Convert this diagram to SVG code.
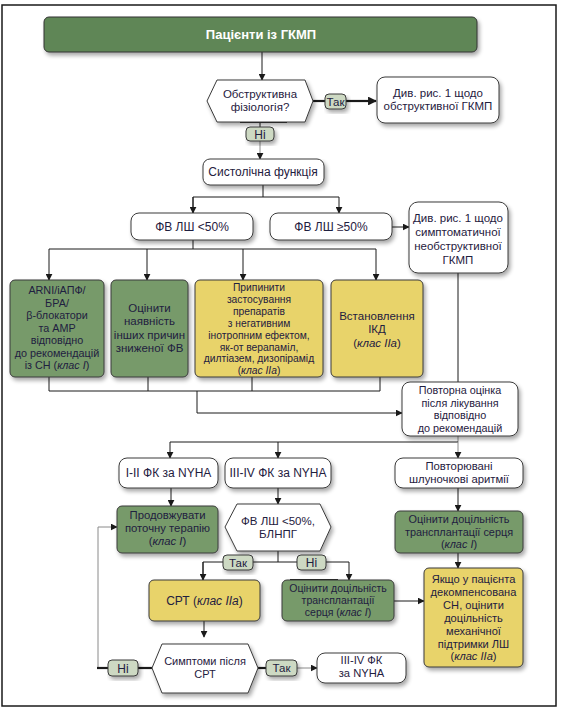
<svg xmlns="http://www.w3.org/2000/svg" width="563" height="710" viewBox="0 0 563 710">
<style>
.t{font-family:"Liberation Sans","DejaVu Sans",sans-serif;font-size:12px;fill:#1f2040;text-anchor:middle}
.s{font-size:11.5px}
.i{font-style:italic}
.w{fill:#ffffff;stroke:#3a3a3a;stroke-width:1}
.g{fill:#779a6b;stroke:#3a3a3a;stroke-width:1}
.y{fill:#e8d36a;stroke:#3a3a3a;stroke-width:1}
.p{fill:#cdd9c3;stroke:#3a3a3a;stroke-width:1}
.c{fill:none;stroke:#1a1a1a;stroke-width:1}
.gr{fill:none;stroke:#8a8a8a;stroke-width:1}
.k{fill:none;stroke:#1a1a1a;stroke-width:2.2}
</style>
<defs>
<marker id="a" viewBox="0 0 10 10" refX="9" refY="5" markerWidth="7" markerHeight="7" markerUnits="userSpaceOnUse" orient="auto"><path d="M0,0 L10,5 L0,10 z" fill="#1a1a1a"/></marker>
<marker id="ak" viewBox="0 0 10 10" refX="9" refY="5" markerWidth="4" markerHeight="4" orient="auto"><path d="M0,0 L10,5 L0,10 z" fill="#1a1a1a"/></marker>
<filter id="sh" x="-10%" y="-10%" width="130%" height="140%"><feGaussianBlur in="SourceAlpha" stdDeviation="2"/><feOffset dx="2" dy="3"/><feComponentTransfer><feFuncA type="linear" slope="0.35"/></feComponentTransfer><feMerge><feMergeNode/><feMergeNode in="SourceGraphic"/></feMerge></filter>
</defs>
<rect x="2" y="5" width="554" height="701" fill="#ffffff" stroke="#1a1a1a" stroke-width="1.5"/>

<g id="connectors">
<line class="c" x1="262" y1="52" x2="262" y2="80" marker-end="url(#a)"/>
<line class="k" x1="240" y1="122" x2="287" y2="122"/>
<line class="c" x1="260" y1="122" x2="260" y2="127"/>
<line class="gr" x1="260" y1="141" x2="260" y2="159" marker-end="url(#a)"/>
<line class="k" x1="313" y1="101" x2="325" y2="101"/>
<line class="k" x1="346" y1="101" x2="376" y2="101" marker-end="url(#ak)"/>
<polyline class="c" points="263,185 263,197"/>
<polyline class="c" points="193,213 193,197 339,197 339,213" marker-end="url(#a)"/>
<line class="c" x1="193" y1="197" x2="193" y2="213" marker-end="url(#a)"/>
<line class="c" x1="392" y1="227" x2="409" y2="227" marker-end="url(#a)"/>
<line class="c" x1="193" y1="240" x2="193" y2="249"/>
<line class="c" x1="49" y1="249" x2="376" y2="249"/>
<line class="c" x1="49" y1="249" x2="49" y2="280" marker-end="url(#a)"/>
<line class="c" x1="147" y1="249" x2="147" y2="280" marker-end="url(#a)"/>
<line class="c" x1="243" y1="249" x2="243" y2="280" marker-end="url(#a)"/>
<line class="c" x1="376" y1="249" x2="376" y2="280" marker-end="url(#a)"/>
<line class="c" x1="458" y1="273" x2="458" y2="382"/>
<polyline class="c" points="49,377 49,391 380,391 380,377"/>
<line class="c" x1="148" y1="377" x2="148" y2="391"/>
<line class="c" x1="252" y1="377" x2="252" y2="391"/>
<polyline class="c" points="197,391 197,413 402,413" marker-end="url(#a)"/>
<line class="gr" x1="458" y1="436" x2="458" y2="442"/>
<line class="c" x1="170" y1="442" x2="458" y2="442"/>
<line class="c" x1="170" y1="442" x2="170" y2="458" marker-end="url(#a)"/>
<line class="c" x1="278" y1="442" x2="278" y2="458" marker-end="url(#a)"/>
<line class="gr" x1="458" y1="442" x2="458" y2="458" marker-end="url(#a)"/>
<line class="c" x1="171" y1="488" x2="171" y2="506" marker-end="url(#a)"/>
<line class="c" x1="278" y1="488" x2="278" y2="504" marker-end="url(#a)"/>
<line class="c" x1="458" y1="488" x2="458" y2="511" marker-end="url(#a)"/>
<line class="c" x1="278" y1="551" x2="278" y2="562"/>
<polyline class="c" points="203,580 203,562 349,562 349,580" marker-end="url(#a)"/>
<line class="c" x1="203" y1="562" x2="203" y2="580" marker-end="url(#a)"/>
<line class="k" x1="290" y1="580" x2="338" y2="580"/>
<line class="c" x1="394" y1="601" x2="424" y2="601" marker-end="url(#a)"/>
<line class="c" x1="458" y1="553" x2="458" y2="568" marker-end="url(#a)"/>
<line class="c" x1="204" y1="621" x2="204" y2="637" marker-end="url(#a)"/>
<polyline class="gr" points="98,668 98,527 117,527" marker-end="url(#a)"/>
<line class="k" x1="97" y1="668" x2="108" y2="668"/>
<line class="k" x1="138" y1="668" x2="152" y2="668"/>
<line class="k" x1="258" y1="668" x2="266" y2="668"/>
<line class="gr" x1="297" y1="668" x2="317" y2="668" marker-end="url(#a)"/>
</g>

<g id="title">
<rect x="44" y="17" width="433" height="35" rx="5" fill="#5e8656" stroke="#333" stroke-width="1" filter="url(#sh)"/>
<text class="t" x="261" y="39" style="fill:#ffffff;font-weight:bold;font-size:13px">Пацієнти із ГКМП</text>
</g>

<g id="obstr">
<polygon class="w" points="207,101 217,80 305,80 313,101 305,122 217,122" filter="url(#sh)"/>
<text class="t" x="260" y="98" style="font-size:11.5px">Обструктивна<tspan x="260" dy="13.4">фізіологія?</tspan></text>
</g>

<g id="lbl-ni1"><rect class="p" x="246" y="127" width="28" height="14" rx="4" filter="url(#sh)"/><text class="t" x="260" y="138.5">Ні</text></g>
<g id="lbl-tak1"><rect class="p" x="325" y="94" width="21" height="15" rx="4" filter="url(#sh)"/><text class="t s" x="335.5" y="105.5">Так</text></g>

<g id="see1">
<rect class="w" x="377" y="77" width="122" height="46" rx="8" filter="url(#sh)"/>
<text class="t s" x="438" y="97">Див. рис. 1 щодо<tspan x="438" dy="13.4">обструктивної ГКМП</tspan></text>
</g>

<g id="systolic">
<rect class="w" x="203" y="159" width="121" height="26" rx="7" filter="url(#sh)"/>
<text class="t" x="263" y="176">Систолічна функція</text>
</g>

<g id="ef-low">
<rect class="w" x="131" y="213" width="122" height="27" rx="8" filter="url(#sh)"/>
<text class="t" x="192" y="231">ФВ ЛШ &lt;50%</text>
</g>
<g id="ef-high">
<rect class="w" x="270" y="213" width="122" height="27" rx="8" filter="url(#sh)"/>
<text class="t" x="331" y="231">ФВ ЛШ ≥50%</text>
</g>

<g id="see2">
<rect class="w" x="409" y="202" width="99" height="71" rx="9" filter="url(#sh)"/>
<text class="t s" x="458" y="222">Див. рис. 1 щодо<tspan x="458" dy="14">симптоматичної</tspan><tspan x="458" dy="14">необструктивної</tspan><tspan x="458" dy="14">ГКМП</tspan></text>
</g>

<g id="arni">
<rect class="g" x="10" y="280" width="94" height="97" rx="5" filter="url(#sh)"/>
<text class="t" x="57" y="294" style="font-size:10.8px">ARNI/іАПФ/<tspan x="57" dy="12.5">БРА/</tspan><tspan x="57" dy="12.5">β-блокатори</tspan><tspan x="57" dy="12.5">та АМР</tspan><tspan x="57" dy="12.5">відповідно</tspan><tspan x="57" dy="12.5">до рекомендацій</tspan><tspan x="57" dy="12.5">із СН (<tspan class="i">клас I</tspan>)</tspan></text>
</g>

<g id="other-causes">
<rect class="g" x="111" y="280" width="77" height="97" rx="5" filter="url(#sh)"/>
<text class="t" x="149.5" y="312" style="font-size:11.5px">Оцінити<tspan x="149.5" dy="13.4">наявність</tspan><tspan x="149.5" dy="13.4">інших причин</tspan><tspan x="149.5" dy="13.4">зниженої ФВ</tspan></text>
</g>

<g id="stop-drugs">
<rect class="y" x="195" y="280" width="128" height="97" rx="5" filter="url(#sh)"/>
<text class="t" x="259" y="291" style="font-size:10.3px">Припинити<tspan x="259" dy="11.9">застосування</tspan><tspan x="259" dy="11.9">препаратів</tspan><tspan x="259" dy="11.9">з негативним</tspan><tspan x="259" dy="11.9">інотропним ефектом,</tspan><tspan x="259" dy="11.9">як-от верапаміл,</tspan><tspan x="259" dy="11.9">дилтіазем, дизопірамід</tspan><tspan x="259" dy="11.9">(<tspan class="i">клас IIa</tspan>)</tspan></text>
</g>

<g id="icd">
<rect class="y" x="331" y="280" width="92" height="97" rx="5" filter="url(#sh)"/>
<text class="t" x="377" y="320" style="font-size:11.5px">Встановлення<tspan x="377" dy="13.4">ІКД</tspan><tspan x="377" dy="13.4">(<tspan class="i">клас IIa</tspan>)</tspan></text>
</g>

<g id="reassess">
<rect class="w" x="402" y="382" width="116" height="54" rx="8" filter="url(#sh)"/>
<text class="t" x="460" y="394" style="font-size:10.8px">Повторна оцінка<tspan x="460" dy="12.5">після лікування</tspan><tspan x="460" dy="12.5">відповідно</tspan><tspan x="460" dy="12.5">до рекомендацій</tspan></text>
</g>

<g id="nyha12">
<rect class="w" x="119" y="458" width="99" height="30" rx="8" filter="url(#sh)"/>
<text class="t" x="168.5" y="477">I-II ФК за NYHA</text>
</g>
<g id="nyha34">
<rect class="w" x="225" y="458" width="106" height="30" rx="8" filter="url(#sh)"/>
<text class="t" x="278" y="477">III-IV ФК за NYHA</text>
</g>
<g id="arrhythmia">
<rect class="w" x="395" y="458" width="128" height="30" rx="8" filter="url(#sh)"/>
<text class="t" x="459" y="470" style="font-size:11.3px">Повторювані<tspan x="459" dy="13.2">шлуночкові аритмії</tspan></text>
</g>

<g id="continue">
<rect class="g" x="117" y="506" width="101" height="47" rx="5" filter="url(#sh)"/>
<text class="t" x="167.5" y="519" style="font-size:11.3px">Продовжувати<tspan x="167.5" dy="13.2">поточну терапію</tspan><tspan x="167.5" dy="13.2">(<tspan class="i">клас I</tspan>)</tspan></text>
</g>

<g id="ef-lbbb">
<polygon class="w" points="225,527 237,504 320,504 331,527 320,551 237,551" filter="url(#sh)"/>
<text class="t" x="278" y="525" style="font-size:11.5px">ФВ ЛШ &lt;50%,<tspan x="278" dy="13.4">БЛНПГ</tspan></text>
</g>

<g id="transplant-r">
<rect class="g" x="395" y="511" width="128" height="42" rx="5" filter="url(#sh)"/>
<text class="t" x="459" y="523" style="font-size:10.9px">Оцінити доцільність<tspan x="459" dy="12.7">трансплантації серця</tspan><tspan x="459" dy="12.7">(<tspan class="i">клас I</tspan>)</tspan></text>
</g>

<g id="lbl-tak2"><rect class="p" x="223" y="555" width="30" height="15" rx="4" filter="url(#sh)"/><text class="t s" x="238" y="566.5">Так</text></g>
<g id="lbl-ni2"><rect class="p" x="297" y="555" width="29" height="15" rx="4" filter="url(#sh)"/><text class="t" x="311.5" y="567">Ні</text></g>

<g id="crt">
<rect class="y" x="149" y="580" width="111" height="41" rx="5" filter="url(#sh)"/>
<text class="t" x="204.5" y="605">СРТ (<tspan class="i">клас IIa</tspan>)</text>
</g>

<g id="transplant-m">
<rect class="g" x="282" y="580" width="112" height="41" rx="5" filter="url(#sh)"/>
<text class="t" x="338" y="592" style="font-size:10.5px">Оцінити доцільність<tspan x="338" dy="12.2">трансплантації</tspan><tspan x="338" dy="12.2">серця (<tspan class="i">клас I</tspan>)</tspan></text>
</g>

<g id="lvad">
<rect class="y" x="424" y="568" width="99" height="99" rx="5" filter="url(#sh)"/>
<text class="t" x="473.5" y="583" style="font-size:11.1px">Якщо у пацієнта<tspan x="473.5" dy="12.9">декомпенсована</tspan><tspan x="473.5" dy="12.9">СН, оцінити</tspan><tspan x="473.5" dy="12.9">доцільність</tspan><tspan x="473.5" dy="12.9">механічної</tspan><tspan x="473.5" dy="12.9">підтримки ЛШ</tspan><tspan x="473.5" dy="12.9">(<tspan class="i">клас IIa</tspan>)</tspan></text>
</g>

<g id="symptoms">
<polygon class="w" points="152,668 162,644 248,644 258,668 248,693 162,693" filter="url(#sh)"/>
<text class="t" x="205" y="665" style="font-size:11px">Симптоми після<tspan x="205" dy="12.8">СРТ</tspan></text>
</g>

<g id="lbl-ni3"><rect class="p" x="108" y="660" width="30" height="16" rx="4" filter="url(#sh)"/><text class="t" x="123" y="672.5">Ні</text></g>
<g id="lbl-tak3"><rect class="p" x="266" y="660" width="31" height="16" rx="4" filter="url(#sh)"/><text class="t s" x="281.5" y="672">Так</text></g>

<g id="nyha34b">
<rect class="w" x="317" y="653" width="89" height="30" rx="8" filter="url(#sh)"/>
<text class="t" x="361.5" y="664" style="font-size:11.2px">III-IV ФК<tspan x="361.5" dy="13.1">за NYHA</tspan></text>
</g>
</svg>
